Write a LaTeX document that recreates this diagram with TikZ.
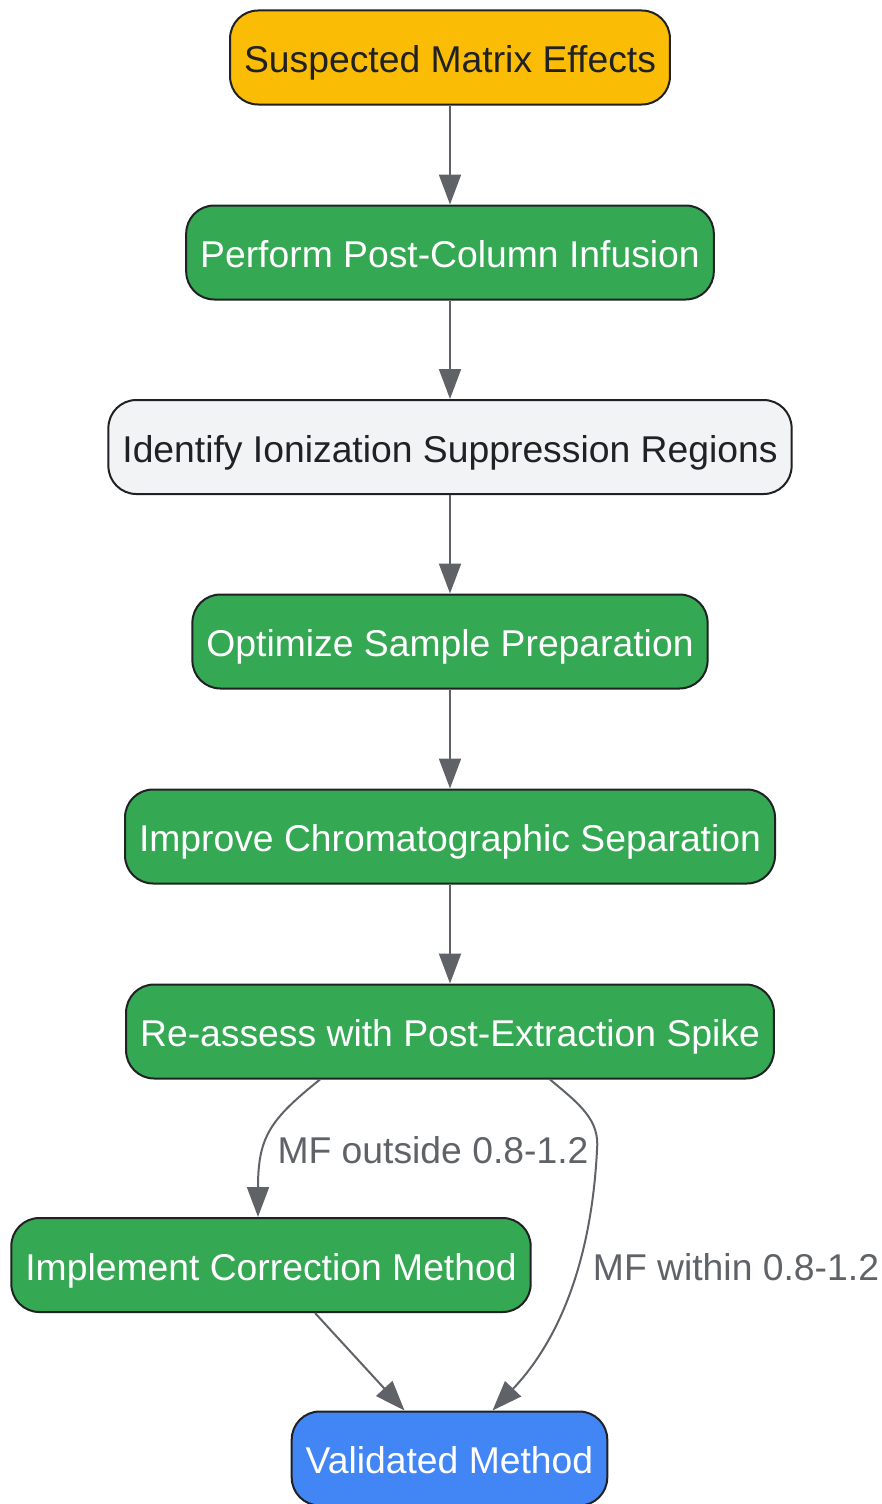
\documentclass[tikz,border=0pt]{standalone}
\usepackage{fontspec}
\setmainfont{Liberation Sans}
\usetikzlibrary{arrows.meta}
\definecolor{gyellow}{HTML}{FBBC05}
\definecolor{ggreen}{HTML}{34A853}
\definecolor{gblue}{HTML}{4285F4}
\definecolor{glight}{HTML}{F1F3F4}
\definecolor{gdark}{HTML}{202124}
\definecolor{ggray}{HTML}{5F6368}

\begin{document}
\begin{tikzpicture}[x=1pt,y=-1pt,
	box/.style={draw=gdark,line width=2pt,rounded corners=28pt,minimum height=94pt,inner xsep=14pt,text height=30pt,text depth=0pt,font=\fontsize{37.3}{42}\selectfont},
	gbox/.style={box,fill=ggreen,text=white},
	flow/.style={draw=ggray,line width=2pt,-{Triangle[length=30pt,width=22pt]}},
	lbl/.style={text=ggray,font=\fontsize{37.3}{42}\selectfont}]
\useasboundingbox (0,0) rectangle (881,1504);
\node[box,fill=gyellow,text=gdark] (suspect) at (450,57.5) {Suspected Matrix Effects};
\node[gbox] (infuse) at (450,252.5) {Perform Post-Column Infusion};
\node[box,fill=glight,text=gdark] (identify) at (450,447) {Identify Ionization Suppression Regions};
\node[gbox] (prep) at (450,641.5) {Optimize Sample Preparation};
\node[gbox] (chrom) at (450,836.5) {Improve Chromatographic Separation};
\node[gbox] (reassess) at (450,1031.5) {Re-assess with Post-Extraction Spike};
\node[gbox] (correct) at (271,1265) {Implement Correction Method};
\node[box,fill=gblue,text=white] (valid) at (449.5,1458.5) {Validated Method};
	\draw[flow] (suspect) -- (infuse);
	\draw[flow] (infuse) -- (identify);
	\draw[flow] (identify) -- (prep);
	\draw[flow] (prep) -- (chrom);
	\draw[flow] (chrom) -- (reassess);
	\draw[flow] ([xshift=-130pt]reassess.south) .. controls +(-50,40) and +(0,-80) .. ([xshift=-13pt]correct.north)
		node[lbl] at (433,1150) {MF outside 0.8-1.2};
\coordinate (bend) at (597,1150);
	\draw[flow] ([xshift=100pt]reassess.south) .. controls +(30,25) and +(3,-30) .. (bend)
		.. controls +(-5,100) and +(72,-76) .. ([xshift=43pt]valid.north)
		node[lbl] at (736,1267) {MF within 0.8-1.2};
	\draw[flow] ([xshift=44pt]correct.south) -- ([xshift=-45pt]valid.north);
\end{tikzpicture}
\end{document}
